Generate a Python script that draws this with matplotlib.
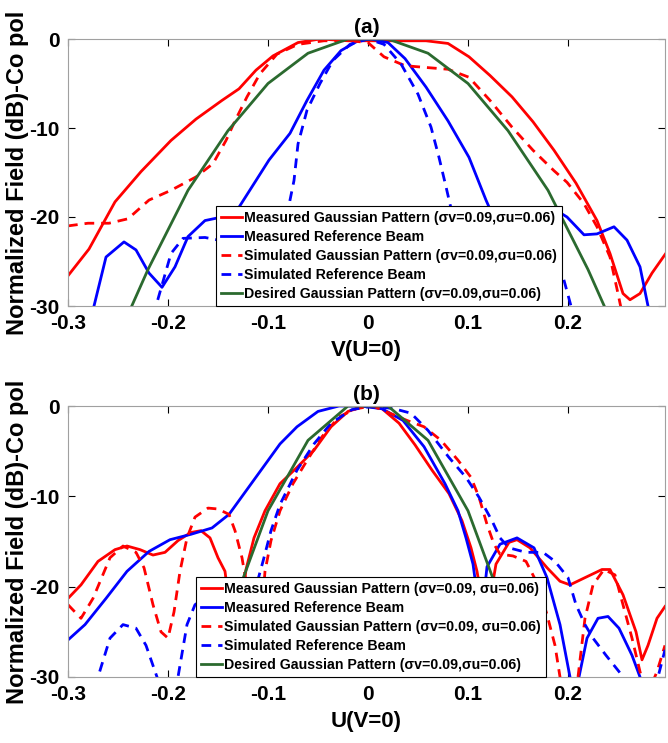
import matplotlib
matplotlib.use("Agg")
import matplotlib.pyplot as plt
import numpy as np

plt.rcParams['font.family'] = ['Liberation Sans', 'DejaVu Sans']
plt.rcParams['font.weight'] = 'bold'

# ---------- panel (a): V(U=0) ----------
a_meas_g_x = [-0.3, -0.279, -0.253, -0.227, -0.197, -0.172, -0.146, -0.129, -0.112, -0.095, -0.07, -0.048,
              -0.02, 0.0, 0.03, 0.058, 0.08, 0.101, 0.122, 0.144, 0.165, 0.186, 0.208, 0.229, 0.242,
              0.255, 0.262, 0.272, 0.284, 0.299]
a_meas_g_y = [-26.6, -23.6, -18.3, -14.9, -11.4, -9.0, -6.9, -5.6, -3.5, -1.9, -0.4, 0.0,
              -0.2, -0.2, -0.2, -0.2, -0.5, -2.0, -4.1, -6.5, -9.3, -12.5, -16.2, -20.4, -24.1,
              -28.6, -29.3, -28.6, -26.3, -23.9]

a_sim_g_x = [-0.3, -0.28, -0.259, -0.24, -0.219, -0.197, -0.172, -0.155, -0.142, -0.133, -0.121, -0.108,
             -0.091, -0.07, -0.044, -0.018, 0.0, 0.016, 0.037, 0.058, 0.08, 0.101, 0.122, 0.144, 0.165,
             0.186, 0.199, 0.216, 0.229, 0.242, 0.25, 0.26]
a_sim_g_y = [-21.0, -20.7, -20.7, -20.2, -18.1, -17.0, -15.5, -14.0, -11.4, -9.2, -6.5, -3.9,
             -1.7, -0.6, -0.2, -0.2, -0.4, -2.0, -3.0, -3.2, -3.4, -4.3, -6.9, -9.9, -12.5,
             -14.8, -16.1, -18.5, -21.1, -24.5, -28.6, -34.0]

a_meas_r_x = [-0.28, -0.274, -0.262, -0.244, -0.232, -0.219, -0.206, -0.193, -0.18, -0.163, -0.146, -0.129,
              -0.112, -0.099, -0.078, -0.061, -0.044, -0.027, -0.01, 0.003, 0.02, 0.037, 0.058, 0.08,
              0.101, 0.118, 0.127, 0.14, 0.16, 0.186, 0.199, 0.216, 0.229, 0.246, 0.259, 0.272, 0.28, 0.285]
a_meas_r_y = [-33.0, -30.0, -24.5, -22.8, -23.7, -26.3, -27.9, -25.6, -22.2, -20.4, -20.0, -18.9,
              -15.9, -13.6, -10.6, -6.9, -3.5, -1.3, -0.2, 0.0, -0.4, -2.2, -5.4, -9.2,
              -13.3, -18.1, -20.4, -23.0, -21.5, -19.1, -20.0, -22.0, -21.9, -21.1, -22.6, -25.6, -30.0, -33.0]

a_sim_r_x = [-0.216, -0.212, -0.197, -0.185, -0.163, -0.14, -0.115, -0.095, -0.085, -0.078, -0.074, -0.07,
             -0.061, -0.048, -0.035, -0.018, 0.0, 0.016, 0.033, 0.05, 0.063, 0.071, 0.078, 0.085,
             0.1, 0.12, 0.145, 0.165, 0.186, 0.195, 0.203, 0.207]
a_sim_r_y = [-33.0, -30.0, -24.1, -22.4, -22.3, -22.8, -25.0, -30.0, -24.0, -18.1, -15.9, -11.8,
             -8.0, -5.0, -2.4, -0.6, 0.0, -0.6, -2.8, -6.2, -9.9, -13.3, -16.6, -20.0,
             -28.0, -24.0, -21.5, -22.5, -25.2, -26.7, -30.0, -33.0]

a_des_x = [-0.26, -0.22, -0.18, -0.14, -0.10, -0.06, -0.02, 0.02, 0.06, 0.10, 0.14, 0.18, 0.22, 0.26]
a_des_y = [-36.0, -25.9, -17.0, -10.3, -5.0, -1.6, 0.0, 0.0, -1.6, -5.0, -10.3, -17.0, -25.9, -36.0]

# ---------- panel (b): U(V=0) ----------
b_meas_g_x = [-0.3, -0.287, -0.27, -0.253, -0.241, -0.228, -0.215, -0.203, -0.19, -0.177, -0.167, -0.158,
              -0.15, -0.143, -0.133, -0.122, -0.114, -0.103, -0.088, -0.071, -0.054, -0.037, -0.02,
              -0.003, 0.014, 0.031, 0.047, 0.064, 0.081, 0.094, 0.103, 0.109, 0.118, 0.128, 0.141,
              0.149, 0.162, 0.179, 0.192, 0.202, 0.217, 0.234, 0.242, 0.255, 0.268, 0.274, 0.28,
              0.289, 0.297]
b_meas_g_y = [-21.3, -19.8, -17.2, -15.9, -15.5, -15.9, -16.5, -16.2, -14.9, -14.0, -13.8, -14.6,
              -16.8, -18.3, -27.0, -18.1, -14.6, -11.6, -8.6, -6.8, -4.9, -2.3, -0.6,
              0.0, -0.3, -1.9, -4.3, -7.1, -9.7, -12.7, -15.7, -18.3, -24.0, -17.5, -15.1,
              -14.8, -15.7, -17.9, -19.4, -19.8, -19.0, -18.1, -18.1, -20.9, -25.0, -28.1, -26.5,
              -23.5, -22.2]

b_sim_g_x = [-0.3, -0.287, -0.275, -0.258, -0.245, -0.232, -0.224, -0.215, -0.207, -0.2, -0.194, -0.188,
             -0.181, -0.173, -0.16, -0.15, -0.139, -0.133, -0.126, -0.118, -0.11, -0.103, -0.097, -0.088,
             -0.075, -0.063, -0.046, -0.029, -0.012, 0.005, 0.022, 0.039, 0.056, 0.073, 0.09, 0.103,
             0.111, 0.119, 0.126, 0.132, 0.145, 0.158, 0.17, 0.179, 0.187, 0.192, 0.2, 0.21, 0.217,
             0.225, 0.236, 0.247, 0.255, 0.264, 0.272, 0.276, 0.283, 0.289, 0.297]
b_sim_g_y = [-22.0, -23.5, -21.3, -16.8, -15.5, -16.2, -17.9, -22.0, -25.0, -25.7, -22.8, -18.3,
             -14.6, -12.3, -11.3, -11.4, -12.0, -13.8, -16.8, -22.0, -28.0, -18.3, -14.9, -11.6,
             -8.6, -6.4, -3.4, -1.2, -0.3, 0.0, -0.8, -1.6, -2.3, -3.8, -6.0, -7.9,
             -10.1, -13.1, -15.3, -16.4, -16.6, -17.2, -19.8, -23.1, -26.5, -30.0, -35.0, -30.0, -23.5,
             -19.8, -18.1, -18.7, -22.0, -25.7, -29.4, -31.0, -31.0, -29.4, -26.5]

b_meas_r_x = [-0.3, -0.283, -0.262, -0.241, -0.219, -0.198, -0.177, -0.156, -0.139, -0.122, -0.105, -0.088,
              -0.071, -0.05, -0.029, -0.008, 0.014, 0.035, 0.056, 0.077, 0.09, 0.098, 0.105, 0.113,
              0.119, 0.132, 0.149, 0.166, 0.179, 0.192, 0.202, 0.207, 0.211, 0.219, 0.23, 0.24, 0.251,
              0.264, 0.272, 0.276]
b_meas_r_y = [-25.9, -24.2, -21.3, -18.3, -16.1, -14.8, -14.2, -13.5, -12.0, -9.4, -6.8, -4.2,
              -2.3, -0.6, 0.0, 0.0, -0.3, -1.6, -4.5, -8.6, -11.6, -14.6, -17.5, -24.0,
              -17.8, -15.3, -14.6, -15.7, -19.0, -24.2, -30.0, -33.0, -30.0, -25.7, -23.5, -23.3, -24.6,
              -27.6, -30.0, -32.0]

b_sim_r_x = [-0.275, -0.27, -0.258, -0.245, -0.232, -0.222, -0.211, -0.205, -0.2, -0.19, -0.181, -0.173,
             -0.16, -0.14, -0.125, -0.112, -0.105, -0.097, -0.088, -0.071, -0.054, -0.037, -0.016,
             0.005, 0.026, 0.043, 0.06, 0.081, 0.098, 0.111, 0.124, 0.132, 0.141, 0.158, 0.175,
             0.187, 0.2, 0.208, 0.217, 0.225, 0.238, 0.251, 0.255, 0.275, 0.29, 0.297]
b_sim_r_y = [-33.0, -30.0, -25.7, -24.2, -24.6, -26.5, -30.0, -33.0, -33.0, -30.0, -24.2, -22.0,
             -21.0, -21.0, -24.0, -20.0, -17.2, -13.8, -10.9, -7.1, -4.2, -1.9, -0.4,
             0.0, -0.3, -0.8, -2.7, -5.7, -7.9, -10.1, -12.7, -14.6, -15.7, -16.2, -16.2,
             -17.2, -19.0, -22.0, -24.2, -25.7, -27.6, -29.4, -30.0, -33.0, -30.0, -27.0]

b_des_x = [-0.18, -0.14, -0.10, -0.06, -0.02, 0.02, 0.06, 0.10, 0.14, 0.18]
b_des_y = [-41.0, -23.6, -11.6, -3.8, 0.0, 0.0, -3.8, -11.6, -23.6, -41.0]

labels_a = ['Measured Gaussian Pattern (\u03c3v=0.09,\u03c3u=0.06)',
            'Measured Reference Beam',
            'Simulated Gaussian Pattern (\u03c3v=0.09,\u03c3u=0.06)',
            'Simulated Reference Beam',
            'Desired Gaussian Pattern (\u03c3v=0.09,\u03c3u=0.06)']
labels_b = ['Measured Gaussian Pattern (\u03c3v=0.09, \u03c3u=0.06)',
            'Measured Reference Beam',
            'Simulated Gaussian Pattern (\u03c3v=0.09, \u03c3u=0.06)',
            'Simulated Reference Beam',
            'Desired Gaussian Pattern (\u03c3v=0.09,\u03c3u=0.06)']

green = '#2b6a2f'
lw = 2.0

fig = plt.figure(figsize=(6.68, 7.43), dpi=100)
ax1 = fig.add_axes([68/668, 1-306/743, 597/668, 267/743])
ax2 = fig.add_axes([68/668, 1-677/743, 597/668, 271/743])


def draw(ax, data, labels, title, xlab, leg_anchor):
    mg, mr, sg, sr, ds = data
    ax.plot(mg[0], mg[1], color='red', lw=lw, label=labels[0])
    ax.plot(mr[0], mr[1], color='blue', lw=lw, label=labels[1])
    ax.plot(sg[0], sg[1], color='red', lw=lw, ls=(0, (3.5, 2.5)), label=labels[2])
    ax.plot(sr[0], sr[1], color='blue', lw=lw, ls=(0, (3.5, 2.5)), label=labels[3])
    ax.plot(ds[0], ds[1], color=green, lw=lw, label=labels[4])
    ax.set_xlim(-0.3, 0.297)
    ax.set_ylim(-30, 0)
    ax.set_xticks([-0.3, -0.2, -0.1, 0, 0.1, 0.2])
    ax.set_xticklabels(['-0.3', '-0.2', '-0.1', '0', '0.1', '0.2'])
    ax.set_yticks([-30, -20, -10, 0])
    ax.set_yticklabels(['-30', '-20', '-10', '0'])
    ax.tick_params(direction='in', length=5, width=0.8, labelsize=15, top=True, right=True, pad=6)
    for lab in ax.get_xticklabels() + ax.get_yticklabels():
        lab.set_fontweight('bold')
    for sp in ax.spines.values():
        sp.set_color('#a0a0a0')
        sp.set_linewidth(0.8)
    ax.set_title(title, fontsize=15, fontweight='bold', pad=4)
    ax.set_xlabel(xlab, fontsize=16, fontweight='bold', labelpad=5)
    ax.set_ylabel('Normalized Field (dB)-Co pol', fontsize=17, fontweight='bold', labelpad=0)
    leg = ax.legend(loc='lower left', bbox_to_anchor=leg_anchor,
                    prop={'weight': 'bold', 'size': 10.2},
                    frameon=True, fancybox=False,
                    handlelength=1.5, handletextpad=0.15, labelspacing=0.36, borderpad=0.35,
                    borderaxespad=0)
    leg.get_frame().set_edgecolor('black')
    leg.get_frame().set_linewidth(0.8)
    leg.get_frame().set_alpha(1)


draw(ax1, [(a_meas_g_x, a_meas_g_y), (a_meas_r_x, a_meas_r_y), (a_sim_g_x, a_sim_g_y),
           (a_sim_r_x, a_sim_r_y), (a_des_x, a_des_y)], labels_a, '(a)', 'V(U=0)', (148/597, 0))
draw(ax2, [(b_meas_g_x, b_meas_g_y), (b_meas_r_x, b_meas_r_y), (b_sim_g_x, b_sim_g_y),
           (b_sim_r_x, b_sim_r_y), (b_des_x, b_des_y)], labels_b, '(b)', 'U(V=0)', (128/597, 0))

fig.savefig('out.png', dpi=100)
